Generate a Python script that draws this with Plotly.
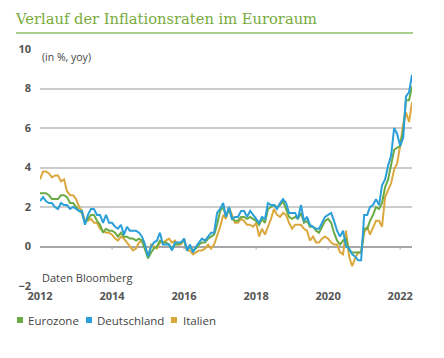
import plotly.graph_objects as go
import pandas as pd

dates = pd.date_range("2012-01-01", "2022-05-01", freq="MS")

eurozone = [
    2.7, 2.7, 2.7, 2.6, 2.4, 2.4, 2.4, 2.6, 2.6, 2.5, 2.2, 2.2,
    2.0, 1.8, 1.7, 1.2, 1.4, 1.6, 1.6, 1.3, 1.1, 0.7, 0.9, 0.8,
    0.8, 0.7, 0.5, 0.7, 0.5, 0.5, 0.4, 0.4, 0.3, 0.4, 0.3, -0.2,
    -0.6, -0.3, -0.1, 0.0, 0.3, 0.2, 0.2, 0.1, -0.1, 0.1, 0.1, 0.2,
    0.3, -0.2, 0.0, -0.2, -0.1, 0.1, 0.2, 0.2, 0.4, 0.5, 0.6, 1.1,
    1.8, 2.0, 1.5, 1.9, 1.4, 1.3, 1.3, 1.5, 1.5, 1.4, 1.5, 1.4,
    1.3, 1.1, 1.4, 1.2, 1.9, 2.0, 2.1, 2.0, 2.1, 2.3, 1.9, 1.5,
    1.4, 1.5, 1.4, 1.7, 1.2, 1.3, 1.0, 1.0, 0.8, 0.7, 1.0, 1.3,
    1.4, 1.2, 0.7, 0.3, 0.1, 0.3, 0.4, -0.2, -0.3, -0.3, -0.3, -0.3,
    0.9, 0.9, 1.3, 1.6, 2.0, 1.9, 2.2, 3.0, 3.4, 4.1, 4.9, 5.0,
    5.1, 5.9, 7.4, 7.4, 8.1,
]

deutschland = [
    2.3, 2.5, 2.3, 2.2, 2.2, 2.0, 1.9, 2.2, 2.1, 2.1, 1.9, 2.0,
    1.9, 1.8, 1.8, 1.1, 1.6, 1.9, 1.9, 1.6, 1.6, 1.2, 1.6, 1.2,
    1.2, 1.0, 0.9, 1.1, 0.6, 1.0, 0.8, 0.8, 0.8, 0.7, 0.5, 0.1,
    -0.5, 0.0, 0.2, 0.3, 0.7, 0.1, 0.1, 0.1, -0.2, 0.2, 0.2, 0.2,
    0.4, -0.2, 0.1, -0.3, 0.0, 0.2, 0.4, 0.3, 0.5, 0.7, 0.7, 1.7,
    1.9, 2.2, 1.5, 2.0, 1.4, 1.5, 1.5, 1.8, 1.8, 1.5, 1.8, 1.6,
    1.4, 1.2, 1.5, 1.4, 2.2, 2.1, 2.1, 1.9, 2.2, 2.4, 2.2, 1.7,
    1.7, 1.7, 1.4, 2.1, 1.3, 1.5, 1.1, 1.0, 0.9, 0.9, 1.2, 1.5,
    1.6, 1.7, 1.3, 0.8, 0.5, 0.8, 0.0, -0.1, -0.4, -0.5, -0.7, -0.7,
    1.6, 1.6, 2.0, 2.1, 2.4, 2.1, 3.1, 3.4, 4.1, 4.6, 6.0, 5.7,
    5.1, 5.5, 7.6, 7.8, 8.7,
]

italien = [
    3.4, 3.8, 3.8, 3.7, 3.5, 3.6, 3.6, 3.3, 3.4, 2.8, 2.6, 2.6,
    2.4, 2.0, 1.8, 1.3, 1.3, 1.4, 1.2, 1.2, 0.9, 0.8, 0.7, 0.7,
    0.6, 0.4, 0.3, 0.5, 0.4, 0.2, 0.0, -0.2, -0.1, 0.2, 0.3, -0.1,
    -0.5, 0.1, 0.0, -0.1, 0.2, 0.2, 0.3, 0.4, 0.2, 0.3, 0.1, 0.1,
    0.4, -0.2, -0.2, -0.4, -0.3, -0.2, -0.2, -0.1, 0.1, -0.1, 0.1, 0.5,
    1.0, 1.6, 1.4, 2.0, 1.6, 1.2, 1.2, 1.4, 1.3, 1.1, 1.1, 1.0,
    1.2, 0.5, 0.9, 0.6, 1.0, 1.4, 1.9, 1.6, 1.5, 1.7, 1.6, 1.2,
    0.9, 1.1, 1.1, 1.1, 0.9, 0.8, 0.3, 0.5, 0.2, 0.2, 0.4, 0.5,
    0.4, 0.2, 0.1, 0.1, -0.3, -0.4, 0.8, -0.5, -1.0, -0.6, -0.3, -0.3,
    0.7, 1.0, 0.6, 1.0, 1.3, 1.3, 1.0, 2.5, 2.9, 3.2, 3.9, 4.2,
    5.1, 6.2, 6.8, 6.3, 7.3,
]

series_names = ["Eurozone", "Deutschland", "Italien"]
series_colors = ["#6aaa45", "#2a9fd9", "#dba83e"]

y_ticks = [-2, 0, 2, 4, 6, 8, 10]
x_tick_years = [2012, 2014, 2016, 2018, 2020, 2022]

W, H = 444, 358
ML, MR, MT, MB = 40, 32, 49, 72
PW, PH = W - ML - MR, H - MT - MB


def px_x(px):
    return (px - ML) / PW


def px_y(py):
    return (H - MB - py) / PH


fig = go.Figure()
# drawing order: gold at the back, then green, blue on top
for name, color, vals in zip(["Italien", "Eurozone", "Deutschland"],
                             ["#dba83e", "#6aaa45", "#2a9fd9"],
                             [italien, eurozone, deutschland]):
    fig.add_trace(go.Scatter(x=dates, y=vals, mode="lines", name=name,
                             line=dict(color=color, width=2),
                             showlegend=False))

tick_font = dict(family="Open Sans", size=11, color="#555555", weight="bold")

fig.update_layout(
    width=W, height=H,
    margin=dict(l=ML, r=MR, t=MT, b=MB),
    paper_bgcolor="white", plot_bgcolor="white",
    title=dict(text="Verlauf der Inflationsraten im Euroraum",
               font=dict(family="DejaVu Serif", size=14.7, color="#78aa3c"),
               x=16 / W, xanchor="left", xref="container",
               y=1 - 19 / H, yanchor="middle", yref="container"),
    xaxis=dict(range=[pd.Timestamp("2012-01-01"), pd.Timestamp("2022-05-01")],
               tickvals=[pd.Timestamp(f"{y}-01-01") for y in x_tick_years],
               ticktext=[str(y) for y in x_tick_years],
               showgrid=False, zeroline=False, showline=False,
               ticks="", tickfont=tick_font, ticklabelstandoff=2),
    yaxis=dict(range=[-2, 10], tickvals=y_ticks,
               ticktext=["\u22122" if v < 0 else str(v) for v in y_ticks],
               showgrid=True, gridcolor="#cccccc", gridwidth=1.5,
               zeroline=True, zerolinecolor="#a6a6a6", zerolinewidth=1.5,
               showline=False, ticks="", tickfont=tick_font,
               ticklabelstandoff=8),
)

# title underline
fig.add_shape(type="line", xref="paper", yref="paper",
              x0=px_x(16), x1=px_x(413), y0=px_y(33), y1=px_y(33),
              line=dict(color="#a9cf8f", width=2))

# small ticks below zero line at labelled years
for y in x_tick_years[1:]:
    fig.add_shape(type="line", xref="x", yref="y",
                  x0=pd.Timestamp(f"{y}-01-01"), x1=pd.Timestamp(f"{y}-01-01"),
                  y0=0, y1=-0.15, line=dict(color="#a6a6a6", width=1))

note_font = dict(family="Open Sans", size=10.5, color="#444444")
fig.add_annotation(text="(in %, yoy)", xref="paper", yref="paper",
                   x=0, y=px_y(57), xanchor="left", yanchor="middle",
                   showarrow=False, font=note_font)
fig.add_annotation(text="Daten Bloomberg", xref="paper", yref="paper",
                   x=0, y=px_y(277), xanchor="left", yanchor="middle",
                   showarrow=False, font=dict(family="Open Sans", size=11, color="#444444"))

# legend keys
legend_sq_x = [17, 86, 171]
legend_text_x = [26, 95, 181]
legend_y = 320
for name, color, sx, tx in zip(series_names, series_colors, legend_sq_x, legend_text_x):
    fig.add_shape(type="rect", xref="paper", yref="paper",
                  x0=px_x(sx), x1=px_x(sx + 6),
                  y0=px_y(legend_y + 3), y1=px_y(legend_y - 3),
                  fillcolor=color, line=dict(width=0))
    fig.add_annotation(text=name, xref="paper", yref="paper",
                       x=px_x(tx), y=px_y(legend_y), xanchor="left", yanchor="middle",
                       showarrow=False,
                       font=dict(family="Open Sans", size=11.5, color="#444444"))

fig.write_html("out.html", config={"displayModeBar": False},
               post_script="document.body.style.margin='0';")
